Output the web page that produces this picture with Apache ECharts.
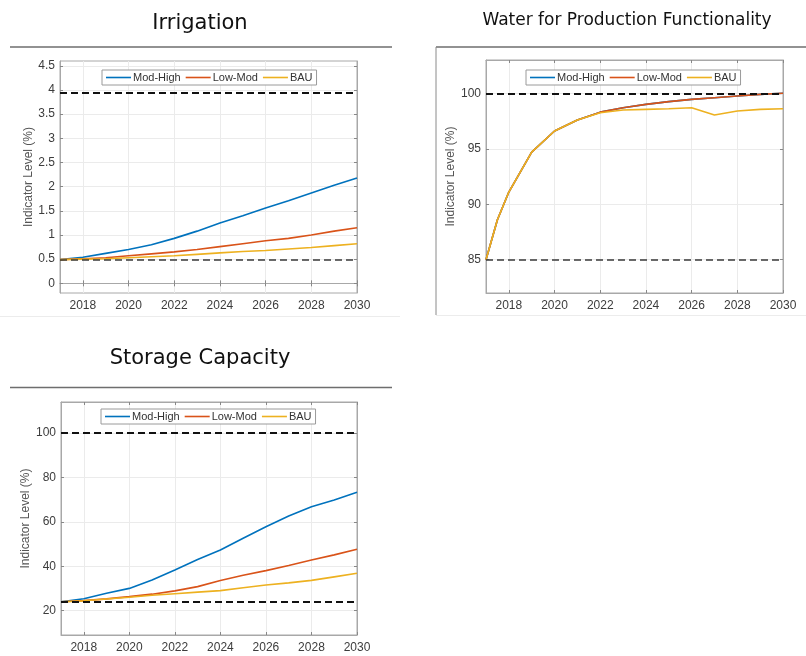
<!DOCTYPE html>
<html><head><meta charset="utf-8">
<script src="https://cdn.jsdelivr.net/npm/echarts@6/dist/echarts.min.js"></script>
<style>html,body{margin:0;padding:0;background:#fff}#c{width:806px;height:656px}</style>
</head><body><div id="c"></div>
<script>
// ---------------- data ----------------
const seriesNames = ['Mod-High', 'Low-Mod', 'BAU'];
const years = [2017, 2018, 2019, 2020, 2021, 2022, 2023, 2024, 2025, 2026, 2027, 2028, 2029, 2030];
const xTickLabels = [2018, 2020, 2022, 2024, 2026, 2028, 2030];

// Irrigation
const irrigationModHigh = [0.49, 0.54, 0.62, 0.70, 0.80, 0.93, 1.08, 1.25, 1.40, 1.56, 1.71, 1.87, 2.03, 2.18];
const irrigationLowMod  = [0.49, 0.51, 0.53, 0.57, 0.61, 0.65, 0.70, 0.76, 0.82, 0.88, 0.93, 1.00, 1.08, 1.15];
const irrigationBAU     = [0.49, 0.50, 0.51, 0.53, 0.55, 0.57, 0.60, 0.63, 0.66, 0.68, 0.71, 0.74, 0.78, 0.82];
const irrigationTargets = [3.95, 0.49];
const irrigationTicks   = [0, 0.5, 1, 1.5, 2, 2.5, 3, 3.5, 4, 4.5];

// Water for Production Functionality
const waterYears    = [2017, 2017.5, 2018, 2019, 2020, 2021, 2022, 2023, 2024, 2025, 2026, 2027, 2028, 2029, 2030];
const waterModHigh  = [85, 88.6, 91.1, 94.7, 96.6, 97.6, 98.3, 98.7, 99.0, 99.25, 99.45, 99.6, 99.75, 99.9, 100.0];
const waterLowMod   = [85, 88.6, 91.1, 94.7, 96.6, 97.6, 98.3, 98.7, 99.0, 99.25, 99.45, 99.6, 99.75, 99.9, 100.0];
const waterBAU      = [85, 88.6, 91.1, 94.7, 96.6, 97.6, 98.25, 98.5, 98.55, 98.6, 98.7, 98.05, 98.4, 98.55, 98.6];
const waterTargets  = [100, 85];
const waterTicks    = [85, 90, 95, 100];

// Storage Capacity
const storageModHigh = [24.0, 25.3, 27.8, 30.0, 33.8, 38.3, 43.0, 47.3, 52.6, 57.8, 62.6, 66.8, 69.8, 73.3];
const storageLowMod  = [24.0, 24.5, 25.3, 26.3, 27.4, 28.9, 30.8, 33.6, 35.9, 38.0, 40.3, 42.8, 45.1, 47.6];
const storageBAU     = [24.0, 24.4, 25.2, 26.0, 26.9, 27.6, 28.3, 29.0, 30.3, 31.5, 32.5, 33.6, 35.2, 36.8];
const storageTargets = [100, 24];
const storageTicks   = [20, 40, 60, 80, 100];

// ---------------- chart ----------------
const colors = ['#0072BD', '#D95319', '#EDB120'];
const fontSans = 'Liberation Sans, Arial, sans-serif';

const panels = [
  { title: 'Irrigation', titleLeft: 200, titleTop: 13, titleSize: 21,
    grid: { left: 60, top: 61, width: 297, height: 232 },
    yMin: -0.2, yMax: 4.6, yTicks: irrigationTicks, nameGap: 23,
    x: years, data: [irrigationModHigh, irrigationLowMod, irrigationBAU],
    targets: irrigationTargets, lowerStyle: { color: '#3a3a3a', width: 1.5 },
    legend: { left: 102, top: 70 } },
  { title: 'Water for Production Functionality', titleLeft: 627, titleTop: 12, titleSize: 17,
    grid: { left: 486, top: 60, width: 297, height: 233 },
    yMin: 82, yMax: 103, yTicks: waterTicks, nameGap: 25,
    x: waterYears, data: [waterModHigh, waterLowMod, waterBAU],
    targets: waterTargets, lowerStyle: { color: '#3a3a3a', width: 1.5 },
    legend: { left: 526, top: 70 } },
  { title: 'Storage Capacity', titleLeft: 200, titleTop: 348, titleSize: 21,
    grid: { left: 61, top: 402, width: 296, height: 233 },
    yMin: 9, yMax: 114, yTicks: storageTicks, nameGap: 27,
    x: years, data: [storageModHigh, storageLowMod, storageBAU],
    targets: storageTargets, lowerStyle: { color: '#111', width: 2 },
    legend: { left: 101, top: 409 } }
];

const axisColor = '#a8a8a8';
const option = {
  animation: false,
  backgroundColor: '#fff',
  title: [], grid: [], xAxis: [], yAxis: [], series: [], legend: [],
  graphic: [
    { type: 'line', shape: { x1: 10, y1: 47, x2: 392, y2: 47 }, style: { stroke: '#6e6e6e', lineWidth: 1.5 } },
    { type: 'line', shape: { x1: 436, y1: 47, x2: 806, y2: 47 }, style: { stroke: '#6e6e6e', lineWidth: 1.5 } },
    { type: 'line', shape: { x1: 436, y1: 47, x2: 436, y2: 315 }, style: { stroke: '#8a8a8a', lineWidth: 1 } },
    { type: 'line', shape: { x1: 10, y1: 387.5, x2: 392, y2: 387.5 }, style: { stroke: '#6e6e6e', lineWidth: 1.5 } },
    { type: 'line', shape: { x1: 0, y1: 316.5, x2: 400, y2: 316.5 }, style: { stroke: '#ececec', lineWidth: 1 } },
    { type: 'line', shape: { x1: 436, y1: 315.5, x2: 806, y2: 315.5 }, style: { stroke: '#ececec', lineWidth: 1 } }
  ]
};

const plainNum = v => String(v);

panels.forEach((p, i) => {
  option.title.push({
    text: p.title, left: p.titleLeft, top: p.titleTop, textAlign: 'center', padding: 0,
    textStyle: { fontFamily: 'DejaVu Sans', fontSize: p.titleSize, fontWeight: 'normal', color: '#111' }
  });
  option.grid.push(Object.assign({ show: true, borderColor: axisColor, borderWidth: 1, backgroundColor: '#fff', outerBoundsMode: 'none', containLabel: false }, p.grid));
  option.xAxis.push({
    type: 'value', gridIndex: i, min: 2017, max: 2030, position: 'bottom',
    axisLine: { show: true, lineStyle: { color: axisColor } },
    axisTick: { show: true, inside: true, length: 3, customValues: xTickLabels, lineStyle: { color: '#888' } },
    axisLabel: { customValues: xTickLabels, formatter: plainNum, margin: 7, fontSize: 12, color: '#3c3c3c', fontFamily: fontSans },
    splitLine: { show: true, lineStyle: { color: '#ebebeb', width: 1 } }
  });
  option.xAxis.push({
    type: 'value', gridIndex: i, min: 2017, max: 2030, position: 'top',
    axisLine: { show: true, lineStyle: { color: axisColor } },
    axisTick: { show: true, inside: true, length: 3, customValues: xTickLabels, lineStyle: { color: '#888' } },
    axisLabel: { show: false }, splitLine: { show: false }
  });
  option.yAxis.push({
    type: 'value', gridIndex: i, min: p.yMin, max: p.yMax, position: 'left',
    name: 'Indicator Level (%)', nameLocation: 'middle', nameGap: p.nameGap, nameRotate: 90,
    nameTextStyle: { fontSize: 12, color: '#555', fontFamily: fontSans },
    axisLine: { show: true, lineStyle: { color: axisColor } },
    axisTick: { show: true, inside: true, length: 3, customValues: p.yTicks, lineStyle: { color: '#888' } },
    axisLabel: { customValues: p.yTicks, formatter: plainNum, margin: 5, fontSize: 12, color: '#3c3c3c', fontFamily: fontSans },
    splitLine: { show: true, lineStyle: { color: '#ebebeb', width: 1 } }
  });
  option.yAxis.push({
    type: 'value', gridIndex: i, min: p.yMin, max: p.yMax, position: 'right',
    axisLine: { show: true, lineStyle: { color: axisColor } },
    axisTick: { show: true, inside: true, length: 3, customValues: p.yTicks, lineStyle: { color: '#888' } },
    axisLabel: { show: false }, splitLine: { show: false }
  });
  const xIdx = i * 2, yIdx = i * 2;
  p.data.forEach((vals, k) => {
    const s = {
      name: seriesNames[k], type: 'line', xAxisIndex: xIdx, yAxisIndex: yIdx,
      symbol: 'none', smooth: false, z: 3 + k,
      lineStyle: { color: colors[k], width: 1.6 }, itemStyle: { color: colors[k] },
      data: p.x.map((yr, j) => [yr, vals[j]])
    };
    if (k === 2) {
      s.markLine = {
        silent: true, symbol: ['none', 'none'], label: { show: false }, z: 10,
        data: [
          { yAxis: p.targets[0], lineStyle: { color: '#111', width: 2, type: [7, 4] } },
          { yAxis: p.targets[1], lineStyle: { color: p.lowerStyle.color, width: p.lowerStyle.width, type: [7, 4] } }
        ]
      };
    }
    option.series.push(s);
  });
  option.legend.push({
    left: p.legend.left, top: p.legend.top, orient: 'horizontal',
    data: seriesNames, selectedMode: false, icon: 'rect',
    backgroundColor: '#fff', borderColor: '#9a9a9a', borderWidth: 1, borderRadius: 0,
    padding: [2, 4, 2, 4], itemGap: 5, itemWidth: 25, itemHeight: 1.6,
    textStyle: { fontSize: 11, color: '#333', fontFamily: fontSans, padding: [0, 0, 0, -3] }
  });
});

const chart = echarts.init(document.getElementById('c'), null, { renderer: 'canvas' });
chart.setOption(option);
</script>
</body></html>
